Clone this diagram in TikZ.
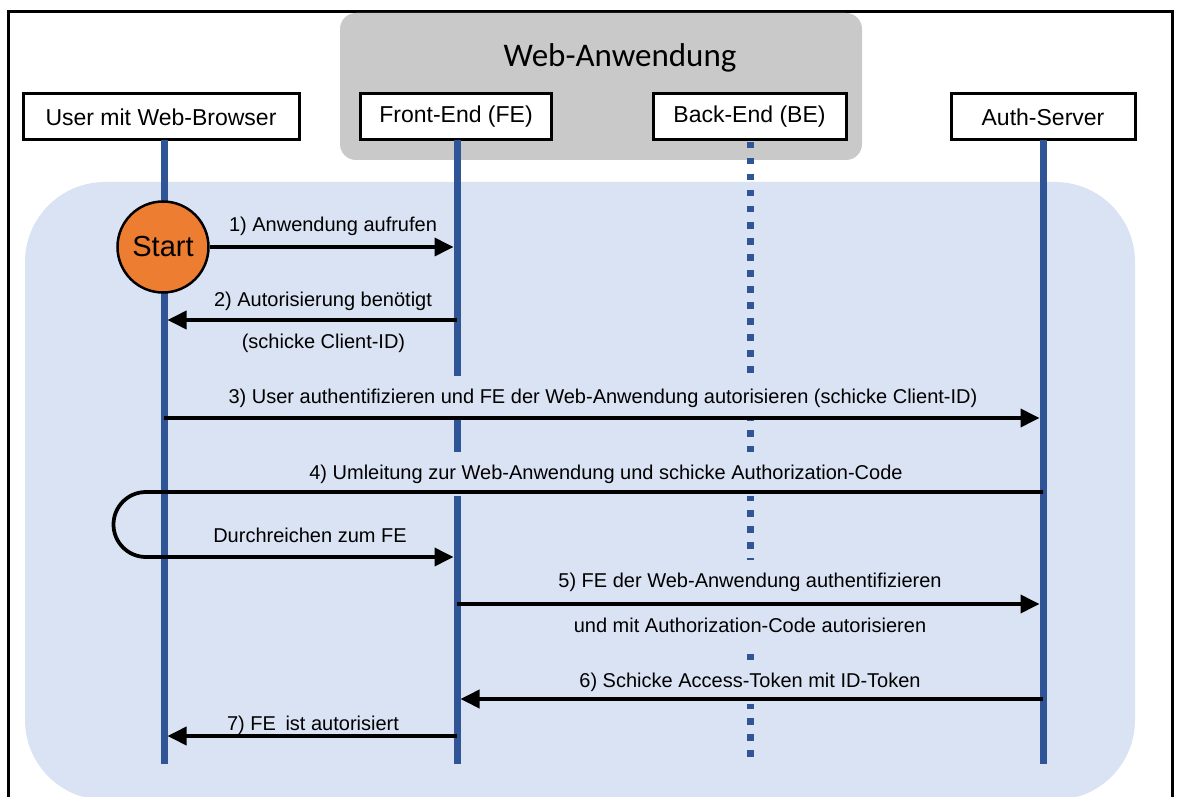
\documentclass[tikz,border=0pt]{standalone}
\usepackage{fontspec}
\setmainfont{Liberation Sans}
\newfontfamily\titlefont{Carlito}
\usetikzlibrary{arrows.meta}

\definecolor{zonebg}{HTML}{DAE3F3}
\definecolor{lifeblue}{HTML}{2F5597}
\definecolor{appgray}{HTML}{C9C9C9}
\definecolor{startorange}{HTML}{ED7D31}

\tikzset{
  actor/.style={draw=black, line width=3pt, fill=white, minimum height=46pt,
    inner sep=0pt, font=\fontsize{23}{27}\selectfont},
  lifeline/.style={draw=lifeblue, line width=7pt},
  dotline/.style={draw=lifeblue, line width=7pt, dash pattern=on 6.5pt off 9.5pt},
  msg/.style={draw=black, line width=3.75pt, -{Triangle[length=19pt,width=18pt]},
    shorten >=3.5pt},
  msglabel/.style={fill=zonebg, anchor=base, inner xsep=3pt, inner ysep=12pt,
    text height=15pt, text depth=5pt, font=\fontsize{20}{24}\selectfont},
}

\begin{document}
\begin{tikzpicture}[x=1pt, y=-1pt]
  \useasboundingbox (0,0) rectangle (1179,797);
  \clip (0,0) rectangle (1179,797);

  % outer frame
  \draw[line width=2.5pt] (8.5,840) -- (8.5,11.5) -- (1172.5,11.5) -- (1172.5,840);

  % web application group
  \fill[appgray, rounded corners=16pt] (340,13) rectangle (862,160);
  \node[font=\titlefont\fontsize{33}{38}\selectfont, anchor=base] (apptitle) at (620,67) {Web-Anwendung};

  % flow zone
  \fill[zonebg, rounded corners=80pt] (25,182) rectangle (1135,800);

  % participants
  \node[actor, minimum width=276pt] (user) at (161,117) {User mit Web-Browser};
  \node[actor, minimum width=191pt] (fe)   at (456,117) {Front-End (FE)};
  \node[actor, minimum width=193pt] (be)   at (749.5,117) {Back-End (BE)};
  \node[actor, minimum width=184pt] (auth) at (1043,117) {Auth-Server};

  % lifeline ends
  \coordinate (userTop) at (164,140);   \coordinate (userBot) at (164,764);
  \coordinate (feTop)   at (457,140);   \coordinate (feBot)   at (457,764);
  \coordinate (beTop)   at (750,142);   \coordinate (beBot)   at (750,758);
  \coordinate (authTop) at (1043,140);  \coordinate (authBot) at (1043,764);

  \draw[lifeline] (userTop) -- (userBot);
  \draw[lifeline] (feTop) -- (feBot);
  \draw[dotline]  (beTop) -- (beBot);
  \draw[lifeline] (authTop) -- (authBot);

  % message rows
  \coordinate (r1) at (0,247);
  \coordinate (r2) at (0,320);
  \coordinate (r3) at (0,418);
  \coordinate (r4) at (0,492);
  \coordinate (r4b) at (0,557);
  \coordinate (r5) at (0,604);
  \coordinate (r6) at (0,699);
  \coordinate (r7) at (0,736);
  \coordinate (loopL) at (113.5,557);

  % message labels
  \node[msglabel] (l1)  at (333,231)   {1) Anwendung aufrufen};
  \node[msglabel] (l2)  at (323,306)   {2) Autorisierung benötigt};
  \node[msglabel] (l2b) at (323.5,348) {(schicke Client-ID)};
  \node[msglabel] (l3)  at (603,403)   {3) User authentifizieren und FE der Web-Anwendung autorisieren (schicke Client-ID)};
  \node[msglabel] (l4)  at (606,479)   {4) Umleitung zur Web-Anwendung und schicke Authorization-Code};
  \node[msglabel] (l4b) at (310,542)   {Durchreichen zum FE};
  \node[msglabel] (l5)  at (750,587)   {5) FE der Web-Anwendung authentifizieren};
  \node[msglabel] (l5b) at (750,632)   {und mit Authorization-Code autorisieren};
  \node[msglabel] (l6)  at (750,687)   {6) Schicke Access-Token mit ID-Token};
  \node[msglabel] (l7)  at (313,730)   {7) FE\hspace{4pt} ist autorisiert};

  % start marker
  \node[circle, draw=black, line width=2.5pt, fill=startorange, minimum size=91pt,
        inner sep=0pt, font=\fontsize{29}{33}\selectfont] (start) at (163,247) {Start};

  % messages
  \draw[msg] (start.east) -- (feTop |- r1);
  \draw[msg] (feTop |- r2) -- (userTop |- r2);
  \draw[msg] (userTop |- r3) -- (authTop |- r3);
  \draw[msg, rounded corners=32.5pt] (authTop |- r4) -| (loopL) -- (feTop |- r4b);
  \draw[msg] (feTop |- r5) -- (authTop |- r5);
  \draw[msg] (authTop |- r6) -- (feTop |- r6);
  \draw[msg] (feTop |- r7) -- (userTop |- r7);
\end{tikzpicture}
\end{document}
